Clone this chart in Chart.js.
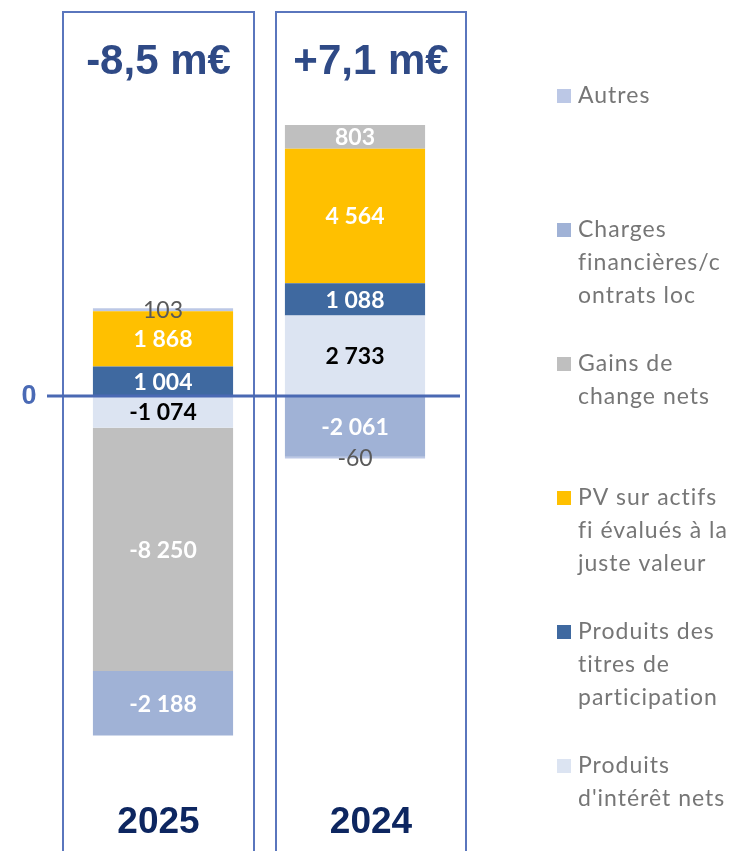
<!DOCTYPE html>
<html>
<head>
	<title>Résultat financier</title>
	<script src="https://cdn.jsdelivr.net/npm/chart.js@4/dist/chart.umd.min.js"></script>
	<style>
		body { margin: 0; background: #fff; }
	</style>
</head>
<body>
	<canvas id="chart1" width="738" height="851"></canvas>
<script>
	// years shown on the two columns
	var categories = ['2025', '2024'];
	// series, in stacking order (first one sits next to zero)
	var seriesNames = ['Produits d\'intérêt nets', 'Produits des titres de participation', 'PV sur actifs fi évalués à la juste valeur', 'Gains de change nets', 'Charges financières/contrats loc', 'Autres'];
	// how the legend wraps each name
	var legendLines = [['Produits', 'd\'intérêt nets'], ['Produits des', 'titres de', 'participation'], ['PV sur actifs', 'fi évalués à la', 'juste valeur'], ['Gains de', 'change nets'], ['Charges', 'financières/c', 'ontrats loc'], ['Autres']];
	var interets = [-1074, 2733];
	var titres = [1004, 1088];
	var pvActifs = [1868, 4564];
	var change = [-8250, 803];
	var charges = [-2188, -2061];
	var autres = [103, -60];
	var seriesValues = [interets, titres, pvActifs, change, charges, autres];

	var colors = ['#dce4f2', '#3f69a0', '#ffc000', '#bfbfbf', '#a0b2d6', '#bcc8e6'];
	var labelColors = ['#000000', '#ffffff', '#ffffff', '#ffffff', '#ffffff', '#595959'];
	var labelBold = [true, true, true, true, true, false];

	// space as thousands separator, like the original
	function fmt(v) {
		var s = Math.abs(v).toString().replace(/\B(?=(\d{3})+(?!\d))/g, ' ');
		return (v < 0 ? '-' : '') + s;
	}
	function fmtTotal(v) {
		var s = (Math.abs(v) / 1000).toFixed(1).replace('.', ',');
		return (v < 0 ? '-' : '+') + s + ' m€';
	}

	// frame around each column, relative to the bar centre
	var frameOffsets = [[-100, 91], [-79, 111]];

	var decorations = {
		id: 'decorations',
		beforeDatasetsDraw: function(chart) {
			var ctx = chart.ctx;
			var x = chart.scales.x;
			ctx.save();
			ctx.strokeStyle = '#5a76bd';
			ctx.lineWidth = 2;
			for (var i = 0; i < categories.length; i++) {
				var cx = x.getPixelForValue(i);
				var l = cx + frameOffsets[i][0];
				var r = cx + frameOffsets[i][1];
				ctx.beginPath();
				ctx.moveTo(l, 860);
				ctx.lineTo(l, 12);
				ctx.lineTo(r, 12);
				ctx.lineTo(r, 860);
				ctx.stroke();
			}
			ctx.restore();
		},
		afterDatasetsDraw: function(chart) {
			var ctx = chart.ctx;
			var x = chart.scales.x;
			var y = chart.scales.y;
			ctx.save();
			// values inside the segments
			ctx.textAlign = 'center';
			ctx.textBaseline = 'middle';
			chart.data.datasets.forEach(function(ds, d) {
				var meta = chart.getDatasetMeta(d);
				meta.data.forEach(function(el, i) {
					ctx.font = (labelBold[d] ? 'bold ' : '') + '23px Lato';
					ctx.fillStyle = labelColors[d];
					ctx.fillText(fmt(ds.data[i]), el.x, (el.y + el.base) / 2 + 1);
				});
			});
			// zero line
			var y0 = y.getPixelForValue(0);
			ctx.strokeStyle = '#4a69b3';
			ctx.lineWidth = 3;
			ctx.beginPath();
			ctx.moveTo(47, y0);
			ctx.lineTo(460, y0);
			ctx.stroke();
			ctx.fillStyle = '#4a6ab5';
			ctx.font = 'bold 27px "Liberation Sans"';
			ctx.fillText('0', 29, y0 + 1);
			// totals on top and years at the bottom of each frame
			for (var i = 0; i < categories.length; i++) {
				var cx = x.getPixelForValue(i) + (frameOffsets[i][0] + frameOffsets[i][1]) / 2;
				var total = 0;
				seriesValues.forEach(function(s) { total += s[i]; });
				ctx.fillStyle = '#2f4a86';
				ctx.font = 'bold 42px "Liberation Sans"';
				ctx.fillText(fmtTotal(total), cx, 62);
				ctx.fillStyle = '#0d2660';
				ctx.font = 'bold 37px "Liberation Sans"';
				ctx.fillText(categories[i], cx, 823);
			}
			// legend, last series first
			ctx.textAlign = 'left';
			ctx.font = '23px Lato';
			ctx.letterSpacing = '1px';
			var ly = 96;
			for (var d = seriesNames.length - 1; d >= 0; d--) {
				ctx.fillStyle = colors[d];
				ctx.fillRect(557, ly - 7, 14, 14);
				ctx.fillStyle = '#767676';
				legendLines[d].forEach(function(line, k) {
					ctx.fillText(line, 578, ly + k * 33);
				});
				ly += 134;
			}
			ctx.restore();
		}
	};

	var datasets = [];
	for (var d = 0; d < seriesNames.length; d++) {
		datasets.push({
			label: seriesNames[d],
			data: seriesValues[d],
			backgroundColor: colors[d],
			borderWidth: 0,
			barPercentage: 1,
			categoryPercentage: 0.73
		});
	}

	var ctx = document.getElementById('chart1');
	var chart = new Chart(ctx, {
		type: 'bar',
		data: { labels: categories, datasets: datasets },
		options: {
			responsive: false,
			animation: false,
			layout: { padding: { left: 67, right: 287, top: 10, bottom: 10 } },
			plugins: { legend: { display: false }, tooltip: { enabled: false } },
			scales: {
				x: { display: false, stacked: true, grid: { display: false } },
				y: { display: false, stacked: true, min: -15085, max: 13085, grid: { display: false } }
			}
		},
		plugins: [decorations]
	});
</script>
</body>
</html>
